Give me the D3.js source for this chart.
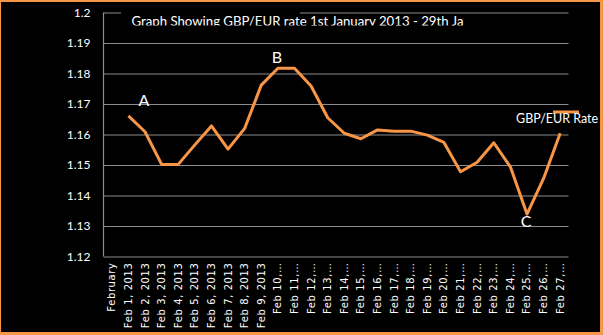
<!DOCTYPE html>
<html>
<head>
<meta charset="utf-8">
<script src="https://cdn.jsdelivr.net/npm/d3@7"></script>
<style>
  body { margin: 0; background: #000; }
  text { font-family: Lato, "Liberation Sans", sans-serif; fill: #fff; }
</style>
</head>
<body>
<script>
  // categories on the x axis (first one has no value)
  var categories = ["February", "Feb 1, 2013", "Feb 2, 2013", "Feb 3, 2013", "Feb 4, 2013",
    "Feb 5, 2013", "Feb 6, 2013", "Feb 7, 2013", "Feb 8, 2013", "Feb 9, 2013",
    "Feb 10,…", "Feb 11,…", "Feb 12,…", "Feb 13,…", "Feb 14,…", "Feb 15,…",
    "Feb 16,…", "Feb 17,…", "Feb 18,…", "Feb 19,…", "Feb 20,…", "Feb 21,…",
    "Feb 22,…", "Feb 23,…", "Feb 24,…", "Feb 25,…", "Feb 26,…", "Feb 27,…"];

  // GBP/EUR rate
  var rates = [null, 1.1661, 1.1609, 1.1502, 1.1502, 1.1566, 1.1628, 1.1552, 1.1620, 1.1762,
    1.1817, 1.1817, 1.1759, 1.1655, 1.1604, 1.1586, 1.1615, 1.1611, 1.1611, 1.1598,
    1.1574, 1.1478, 1.1509, 1.1573, 1.1494, 1.1339, 1.1456, 1.1604];

  var yTicks = [1.12, 1.13, 1.14, 1.15, 1.16, 1.17, 1.18, 1.19, 1.2];

  // annotations: label and category they sit over
  var notes = [
    { label: "A", cat: "Feb 2, 2013", value: 1.1695 },
    { label: "B", cat: "Feb 10,…", value: 1.1835 },
    { label: "C", cat: "Feb 25,…", value: 1.1297 }
  ];

  var W = 603, H = 335;
  var pLeft = 103.5, pRight = 568.5, pTop = 12.5, pBottom = 256.5;

  var svg = d3.select("body").append("svg")
      .attr("width", W).attr("height", H);

  // orange frame
  svg.append("rect").attr("width", W).attr("height", H).attr("fill", "#F79646");
  svg.append("rect").attr("x", 1).attr("y", 2).attr("width", 599).attr("height", 330)
      .attr("fill", "#000");

  var x = d3.scaleBand().domain(categories).range([pLeft, pRight]).padding(0);
  var y = d3.scaleLinear().domain([1.12, 1.2]).range([pBottom, pTop]);

  /*
    y axis with gridlines
  */
  var yAxis = svg.append("g")
      .attr("transform", "translate(" + pLeft + ",0)")
      .call(d3.axisLeft(y).tickValues(yTicks).tickSize(-(pRight - pLeft))
        .tickPadding(13).tickFormat(function(d) { return String(d); }));
  yAxis.select(".domain").remove();
  yAxis.selectAll("line").attr("stroke", "#8c8c8c").attr("stroke-width", 1.2);
  yAxis.selectAll("text").style("font-size", "12px").attr("fill", "#fff");

  svg.append("line")
      .attr("x1", pLeft).attr("x2", pLeft).attr("y1", pTop).attr("y2", pBottom)
      .attr("stroke", "#8c8c8c").attr("stroke-width", 1.2);

  /*
    x axis, labels turned upright
  */
  var xAxis = svg.append("g")
      .attr("transform", "translate(0," + pBottom + ")")
      .call(d3.axisBottom(x).tickSize(0));
  xAxis.select(".domain").remove();
  xAxis.selectAll("text")
      .attr("transform", "translate(0,6) rotate(-90)")
      .attr("x", 0).attr("y", 0).attr("dy", "0.35em")
      .style("text-anchor", "end")
      .style("font-family", "'DejaVu Sans', sans-serif")
      .style("font-size", "10px")
      .style("letter-spacing", "0.6px")
      .attr("fill", "#fff");

  // title box covers part of the top gridline, text overflows past it
  svg.append("clipPath").attr("id", "titleClip")
    .append("rect").attr("x", 0).attr("y", 0).attr("width", W).attr("height", 25.5);
  svg.append("rect").attr("x", 121).attr("y", 8).attr("width", 179).attr("height", 17)
      .attr("fill", "#000");
  svg.append("text")
      .attr("clip-path", "url(#titleClip)")
      .attr("x", 131.5).attr("y", 26)
      .attr("textLength", 332).attr("lengthAdjust", "spacingAndGlyphs")
      .style("font-size", "12.5px")
      .text("Graph Showing GBP/EUR rate 1st January 2013  - 29th Ja");

  /*
    the rate line
  */
  var line = d3.line()
      .defined(function(d) { return d != null; })
      .x(function(d, i) { return x(categories[i]) + x.bandwidth() / 2; })
      .y(function(d) { return y(d); });

  svg.append("path")
      .datum(rates)
      .attr("d", line)
      .attr("fill", "none")
      .attr("stroke", "#F79646")
      .attr("stroke-width", 3)
      .attr("stroke-linejoin", "round");

  // annotations
  svg.selectAll(".note").data(notes).enter().append("text")
      .attr("class", "note")
      .attr("x", function(d) { return x(d.cat) + x.bandwidth() / 2 - 1; })
      .attr("y", function(d) { return y(d.value); })
      .style("text-anchor", "middle")
      .style("font-size", "16px")
      .text(function(d) { return d.label; });

  // legend
  svg.append("line")
      .attr("x1", 553).attr("x2", 579).attr("y1", 112).attr("y2", 112)
      .attr("stroke", "#F79646").attr("stroke-width", 3);
  svg.append("text")
      .attr("x", 516).attr("y", 122.5)
      .style("font-size", "12.5px")
      .text("GBP/EUR Rate");
</script>
</body>
</html>
